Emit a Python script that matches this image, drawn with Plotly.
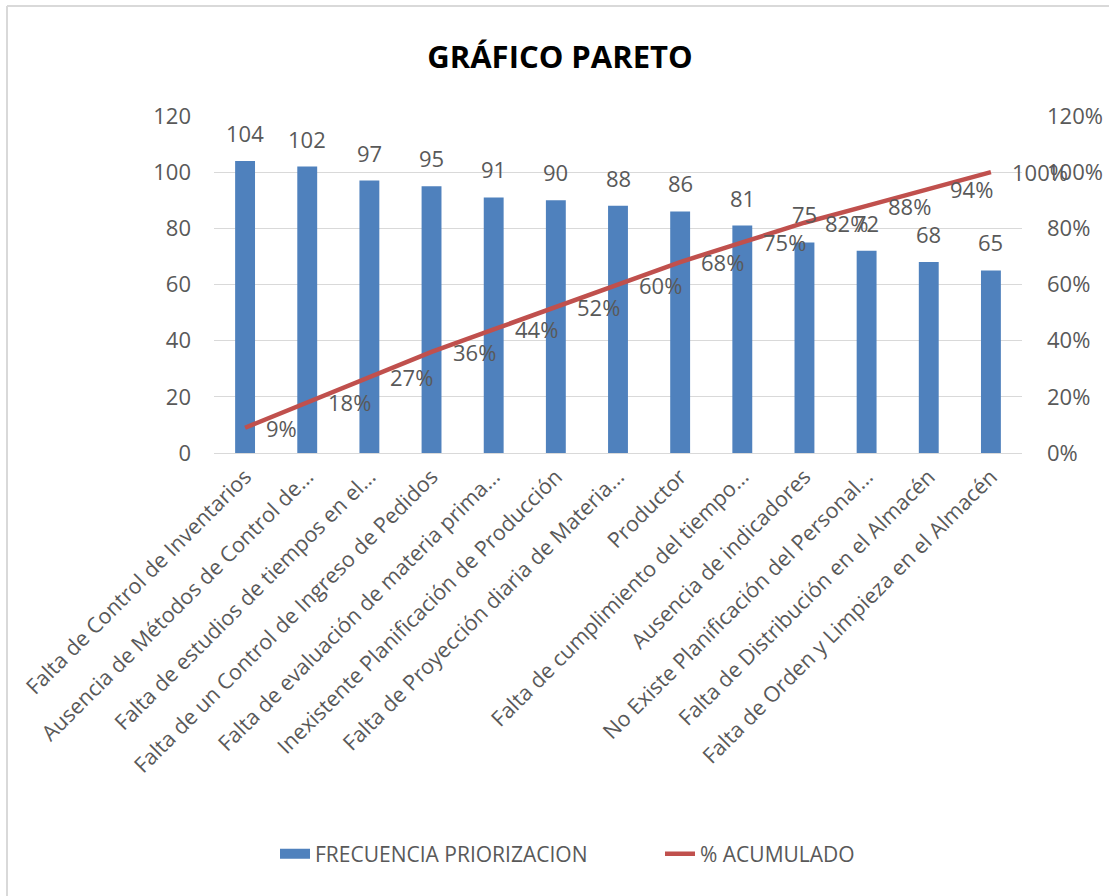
import plotly.graph_objects as go

categories = [
    "Falta de Control de Inventarios",
    "Ausencia de Métodos de Control de...",
    "Falta de estudios de tiempos en el...",
    "Falta de un Control de Ingreso de Pedidos",
    "Falta de evaluación de materia prima...",
    "Inexistente Planificación de Producción",
    "Falta de Proyección diaria de Materia...",
    "Productor",
    "Falta de cumplimiento del tiempo...",
    "Ausencia de indicadores",
    "No Existe Planificación del Personal...",
    "Falta de Distribución en el Almacén",
    "Falta de Orden y Limpieza en el Almacén",
]
frecuencia = [104, 102, 97, 95, 91, 90, 88, 86, 81, 75, 72, 68, 65]
acumulado_pct = [9, 18, 27, 36, 44, 52, 60, 68, 75, 82, 88, 94, 100]

W, H = 1109, 896
ML, MR, MT, MB = 214, 87, 116, 443
PW, PH = W - ML - MR, H - MT - MB

FONT = "'Open Sans', 'Noto Sans', sans-serif"
GRAY = "#595959"
BLUE = "#4F81BD"
RED = "#C0504D"

acum = [v / 100 for v in acumulado_pct]

fig = go.Figure()
fig.add_trace(go.Bar(
    x=categories, y=frecuencia, name="FRECUENCIA PRIORIZACION",
    marker=dict(color=BLUE, line=dict(width=0)), showlegend=False,
    legendgroup="bar",
))
# legend swatch for the bars (wide rectangle like the original legend)
fig.add_trace(go.Scatter(
    x=[None], y=[None], name="FRECUENCIA PRIORIZACION", mode="lines",
    line=dict(color=BLUE, width=15), legendgroup="bar", hoverinfo="skip",
))
fig.add_trace(go.Scatter(
    x=categories, y=acum, name="% ACUMULADO", yaxis="y2",
    mode="lines", line=dict(color=RED, width=4.5),
))

annotations = []
for c, v in zip(categories, frecuencia):
    annotations.append(dict(x=c, y=v, xref="x", yref="y", text=str(v),
                            showarrow=False, yanchor="bottom", yshift=11,
                            font=dict(family=FONT, size=22, color=GRAY)))
for c, v, p in zip(categories, acum, acumulado_pct):
    annotations.append(dict(x=c, y=v, xref="x", yref="y2", text=f"{p}%",
                            showarrow=False, xanchor="left", yanchor="middle",
                            xshift=19,
                            font=dict(family=FONT, size=22, color=GRAY)))

# chart border (top and left visible)
bx = (7 - ML) / PW
by = (H - MB - 6) / PH
shapes = [
    dict(type="line", xref="paper", yref="paper", x0=bx, x1=(W - ML) / PW + 0.01,
         y0=by, y1=by, line=dict(color="#D9D9D9", width=2)),
    dict(type="line", xref="paper", yref="paper", x0=bx, x1=bx,
         y0=by, y1=-(MB + 10) / PH, line=dict(color="#D9D9D9", width=2)),
]

fig.update_layout(
    width=W, height=H,
    margin=dict(l=ML, r=MR, t=MT, b=MB, autoexpand=False),
    paper_bgcolor="white", plot_bgcolor="white",
    font=dict(family=FONT, color=GRAY, size=21),
    title=dict(text="<b>GRÁFICO PARETO</b>", xref="container", yref="container",
               x=560 / W, xanchor="center", y=1 - 57 / H, yanchor="middle",
               font=dict(family=FONT, size=31, color="#000000")),
    bargap=0.68,
    xaxis=dict(range=[-0.5, len(categories) - 0.5], tickangle=-45,
               showgrid=False, showline=False, ticks="",
               tickfont=dict(family=FONT, size=21.5, color=GRAY),
               automargin=False, ticklabelstandoff=6),
    yaxis=dict(range=[0, 120], dtick=20, showgrid=True, gridcolor="#D9D9D9",
               gridwidth=1, zeroline=True, zerolinecolor="#D9D9D9",
               zerolinewidth=1, showline=False, ticks="",
               tickfont=dict(family=FONT, size=22, color=GRAY),
               automargin=False, ticklabelstandoff=22),
    yaxis2=dict(range=[0, 1.2], dtick=0.2, tickformat=".0%", overlaying="y",
                side="right", showgrid=False, zeroline=False, showline=False,
                ticks="", tickfont=dict(family=FONT, size=22, color=GRAY),
                automargin=False, ticklabelstandoff=24),
    legend=dict(orientation="h", x=(275 - ML) / PW, xanchor="left",
                y=-(854 - (H - MB)) / PH, yanchor="middle",
                font=dict(family=FONT, size=21, color=GRAY),
                itemwidth=30, traceorder="normal", tracegroupgap=0,
                entrywidth=340),
    annotations=annotations,
    shapes=shapes,
)

fig.write_html("out.html")
